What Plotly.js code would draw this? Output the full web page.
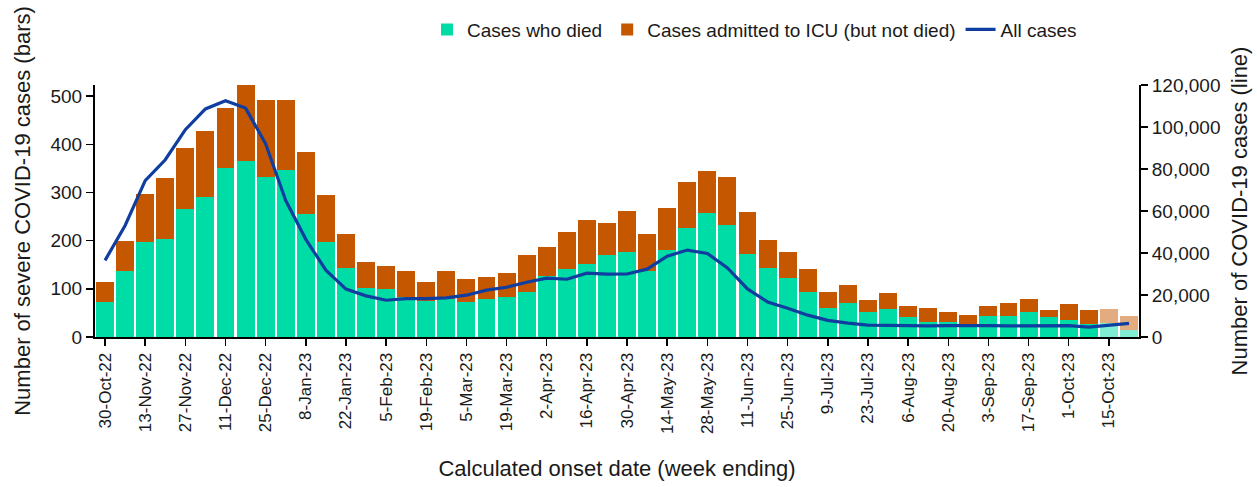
<!DOCTYPE html>
<html>
<head>
<meta charset="utf-8">
<script src="https://cdn.plot.ly/plotly-3.0.1.min.js"></script>
<style>
  html, body { margin: 0; padding: 0; background: #ffffff; }
  #chart { width: 1257px; height: 487px; }
</style>
</head>
<body>
<div id="chart"></div>
<script>
// Week ending dates (categories)
const weeks = [
  '30-Oct-22','6-Nov-22','13-Nov-22','20-Nov-22','27-Nov-22','4-Dec-22','11-Dec-22','18-Dec-22',
  '25-Dec-22','1-Jan-23','8-Jan-23','15-Jan-23','22-Jan-23','29-Jan-23','5-Feb-23','12-Feb-23',
  '19-Feb-23','26-Feb-23','5-Mar-23','12-Mar-23','19-Mar-23','26-Mar-23','2-Apr-23','9-Apr-23',
  '16-Apr-23','23-Apr-23','30-Apr-23','7-May-23','14-May-23','21-May-23','28-May-23','4-Jun-23',
  '11-Jun-23','18-Jun-23','25-Jun-23','2-Jul-23','9-Jul-23','16-Jul-23','23-Jul-23','30-Jul-23',
  '6-Aug-23','13-Aug-23','20-Aug-23','27-Aug-23','3-Sep-23','10-Sep-23','17-Sep-23','24-Sep-23',
  '1-Oct-23','8-Oct-23','15-Oct-23','22-Oct-23'
];

// Tick labels shown on the x axis (every second week)
const tickLabels = [
  '30-Oct-22','13-Nov-22','27-Nov-22','11-Dec-22','25-Dec-22','8-Jan-23','22-Jan-23','5-Feb-23',
  '19-Feb-23','5-Mar-23','19-Mar-23','2-Apr-23','16-Apr-23','30-Apr-23','14-May-23','28-May-23',
  '11-Jun-23','25-Jun-23','9-Jul-23','23-Jul-23','6-Aug-23','20-Aug-23','3-Sep-23','17-Sep-23',
  '1-Oct-23','15-Oct-23'
];

// Cases who died (bars, bottom segment)
const died = [
  72,136,197,204,265,290,350,366,333,346,255,197,144,101,99,82,
  75,78,72,78,84,93,126,142,152,171,177,138,181,226,257,232,
  173,144,122,93,60,71,52,58,42,32,32,26,44,44,52,42,
  36,27,29,15
];

// Cases admitted to ICU but not died (bars, top segment)
const icu = [
  43,64,99,125,128,138,125,157,159,146,128,97,70,55,49,54,
  40,58,49,47,48,78,61,76,91,66,84,76,86,95,87,101,
  86,58,55,49,33,37,25,33,23,28,20,20,21,27,27,14,
  33,29,29,29
];

// All COVID-19 cases (line, right axis)
const allCases = [
  36500,53100,74500,84400,98700,108600,112500,109000,92000,65000,46500,31800,22800,19600,17500,18300,
  18300,18600,19900,22300,23700,26100,28000,27500,30400,29900,30000,32300,38500,41400,39800,32900,
  22900,16700,13700,10400,7900,6600,5700,5500,5300,5300,5400,5500,5400,5300,5400,5400,
  5400,4700,5600,6500
];

// Number of most recent weeks that are provisional (shown faded)
const provisionalWeeks = 2;

const GREEN = 'rgb(0,220,165)';
const GREEN_FADED = 'rgb(128,236,210)';
const ORANGE = 'rgb(197,87,0)';
const ORANGE_FADED = 'rgb(226,171,128)';
const BLUE = 'rgb(16,62,160)';

const nProv = weeks.length - provisionalWeeks;
const greenColors = weeks.map((w, i) => i >= nProv ? GREEN_FADED : GREEN);
const orangeColors = weeks.map((w, i) => i >= nProv ? ORANGE_FADED : ORANGE);

const FONT = 'Liberation Sans, Arial, sans-serif';
const TXT = '#1a1a1a';

const traces = [
  {
    type: 'bar', name: 'Cases who died', x: weeks, y: died,
    marker: { color: greenColors, line: { width: 0 } },
    hoverinfo: 'x+y'
  },
  {
    type: 'bar', name: 'Cases admitted to ICU (but not died)', x: weeks, y: icu,
    marker: { color: orangeColors, line: { width: 0 } },
    hoverinfo: 'x+y'
  },
  {
    type: 'scatter', mode: 'lines', name: 'All cases', x: weeks, y: allCases,
    yaxis: 'y2', line: { color: BLUE, width: 3.2 }
  }
];

const layout = {
  width: 1257, height: 487,
  paper_bgcolor: '#ffffff', plot_bgcolor: '#ffffff',
  margin: { l: 95, r: 118, t: 84, b: 150 },
  barmode: 'stack', bargap: 0.11,
  font: { family: FONT, color: TXT, size: 19 },
  showlegend: true,
  legend: {
    orientation: 'h', x: 0.318, xanchor: 'left', y: 1.215, yanchor: 'middle',
    font: { family: FONT, size: 19, color: TXT }, traceorder: 'normal',
    bgcolor: 'rgba(0,0,0,0)'
  },
  xaxis: {
    type: 'category', categoryorder: 'array', categoryarray: weeks,
    range: [-0.5, weeks.length - 0.5],
    tickmode: 'array', tickvals: tickLabels, ticktext: tickLabels,
    tickangle: -90, tickfont: { family: FONT, size: 17, color: TXT },
    ticks: 'outside', ticklen: 7, tickwidth: 1.5, tickcolor: '#000',
    showline: true, linecolor: '#000', linewidth: 2,
    showgrid: false, zeroline: false,
    title: { text: 'Calculated onset date (week ending)', font: { family: FONT, size: 22, color: TXT }, standoff: 28 },
    automargin: false, fixedrange: true
  },
  yaxis: {
    range: [0, 523], tickvals: [0, 100, 200, 300, 400, 500],
    ticks: 'outside', ticklen: 7, tickwidth: 1.5, tickcolor: '#000',
    tickfont: { family: FONT, size: 19, color: TXT },
    showline: true, linecolor: '#000', linewidth: 2,
    showgrid: false, zeroline: false,
    title: { text: 'Number of severe COVID-19 cases (bars)', font: { family: FONT, size: 22, color: TXT }, standoff: 14 },
    automargin: false, fixedrange: true
  },
  yaxis2: {
    overlaying: 'y', side: 'right', range: [0, 120000],
    tickvals: [0, 20000, 40000, 60000, 80000, 100000, 120000],
    ticktext: ['0', '20,000', '40,000', '60,000', '80,000', '100,000', '120,000'],
    ticks: 'outside', ticklen: 7, tickwidth: 1.5, tickcolor: '#000',
    tickfont: { family: FONT, size: 19, color: TXT },
    showline: true, linecolor: '#000', linewidth: 2,
    showgrid: false, zeroline: false,
    title: { text: 'Number of COVID-19 cases (line)', font: { family: FONT, size: 22, color: TXT }, standoff: 12 },
    automargin: false, fixedrange: true
  }
};

Plotly.newPlot('chart', traces, layout, { displayModeBar: false, staticPlot: true });
</script>
</body>
</html>
